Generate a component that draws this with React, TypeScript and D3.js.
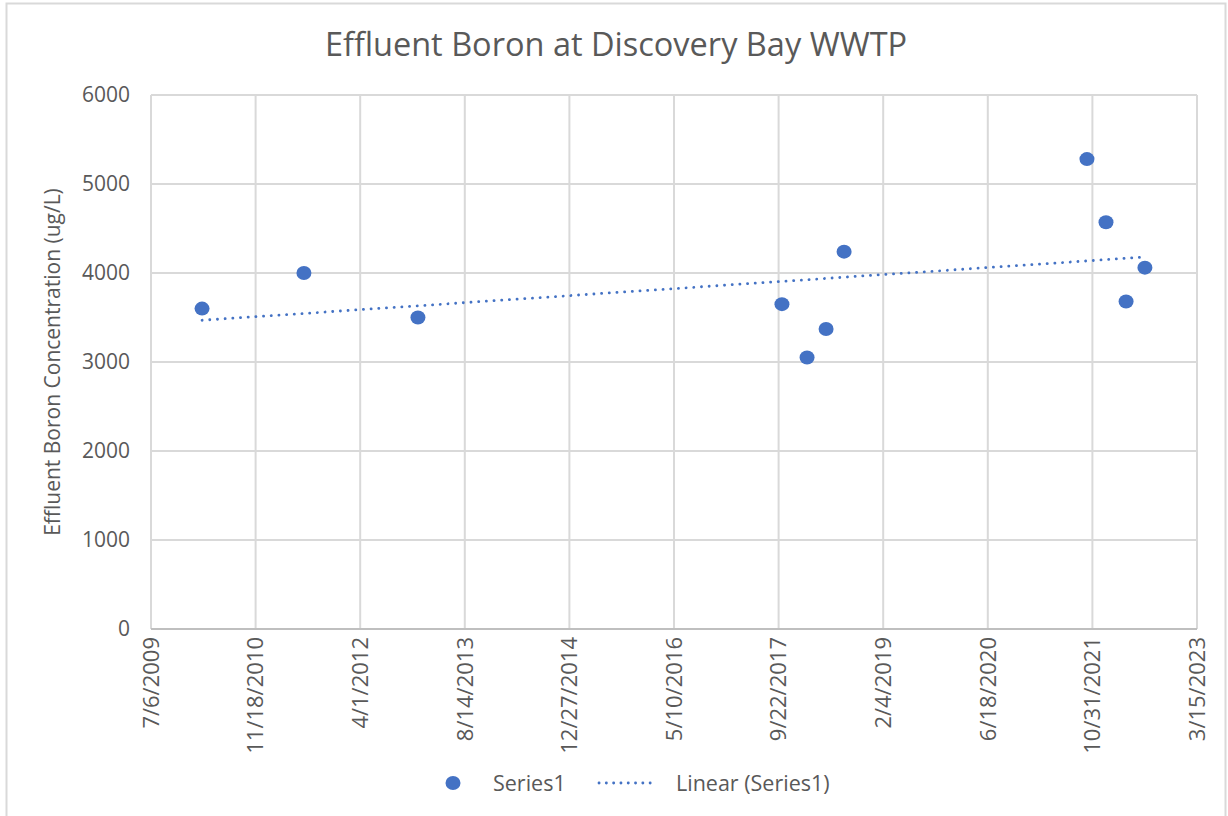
import React from "react";
import * as d3 from "d3";

// sample dates (m/d/yyyy) and boron concentration in ug/L
const sampleDates = [
  "3/7/2010",
  "7/7/2011",
  "1/2/2013",
  "10/8/2017",
  "2/5/2018",
  "5/7/2018",
  "8/1/2018",
  "10/5/2021",
  "1/4/2022",
  "4/10/2022",
  "7/9/2022",
];
const boronValues = [3600, 4000, 3500, 3650, 3050, 3370, 4240, 5280, 4570, 3680, 4060];

const xTickLabels = [
  "7/6/2009",
  "11/18/2010",
  "4/1/2012",
  "8/14/2013",
  "12/27/2014",
  "5/10/2016",
  "9/22/2017",
  "2/4/2019",
  "6/18/2020",
  "10/31/2021",
  "3/15/2023",
];
const yTicks = [0, 1000, 2000, 3000, 4000, 5000, 6000];

const W = 1228;
const H = 816;
const margin = { top: 95, right: 31, bottom: 187, left: 151 };
const FONT = "'Open Sans', sans-serif";
const TEXT = "#595959";
const GRID = "#d9d9d9";
const BLUE = "#4472C4";

export default function App() {
  const parse = d3.utcParse("%m/%d/%Y");
  const ticks = xTickLabels.map((t) => parse(t) as Date);
  const points = sampleDates.map((d, i) => ({ date: parse(d) as Date, value: boronValues[i] }));

  const x = d3
    .scaleUtc()
    .domain([ticks[0], ticks[ticks.length - 1]])
    .range([margin.left, W - margin.right]);
  const y = d3
    .scaleLinear()
    .domain([0, 6000])
    .range([H - margin.bottom, margin.top]);

  // least squares trend, like Excel's linear trendline
  const xs = points.map((p) => +p.date);
  const mx = d3.mean(xs) as number;
  const my = d3.mean(boronValues) as number;
  const sxy = d3.sum(points, (p) => (+p.date - mx) * (p.value - my));
  const sxx = d3.sum(xs, (v) => (v - mx) ** 2);
  const slope = sxy / sxx;
  const [x0, x1] = d3.extent(xs) as [number, number];
  const trend = [x0, x1].map((t) => [x(new Date(t)), y(my + slope * (t - mx))] as [number, number]);
  const trendPath = d3.line()(trend) as string;

  const plotBottom = H - margin.bottom;
  const plotRight = W - margin.right;

  return (
    <svg
      width={W}
      height={H}
      style={{ position: "absolute", left: 0, top: 0, background: "#fff" }}
      fontFamily={FONT}
    >
      <rect x={6.5} y={3.5} width={1219} height={H + 10} fill="#fff" stroke={GRID} strokeWidth={2} />

      <text x={616} y={56} textAnchor="middle" fontSize={32.5} fill={TEXT}>
        Effluent Boron at Discovery Bay WWTP
      </text>

      {/* horizontal grid */}
      {yTicks.map((t) => (
        <g key={"y" + t}>
          {t > 0 && (
            <line x1={margin.left} x2={plotRight} y1={y(t)} y2={y(t)} stroke={GRID} strokeWidth={2} />
          )}
          <text x={130} y={y(t)} dy="0.35em" textAnchor="end" fontSize={21} fill={TEXT}>
            {t}
          </text>
        </g>
      ))}

      {/* vertical grid + rotated date labels */}
      {ticks.map((t, i) => (
        <g key={"x" + i}>
          <line x1={x(t)} x2={x(t)} y1={margin.top} y2={plotBottom} stroke={GRID} strokeWidth={2} />
          <text
            transform={`translate(${x(t)},${plotBottom + 8}) rotate(-90)`}
            textAnchor="end"
            dy="0.35em"
            fontSize={22}
            fill={TEXT}
          >
            {xTickLabels[i]}
          </text>
        </g>
      ))}
      <line x1={margin.left} x2={plotRight} y1={plotBottom} y2={plotBottom} stroke="#bfbfbf" strokeWidth={2} />

      <text
        transform={`translate(60,${(margin.top + plotBottom) / 2}) rotate(-90)`}
        textAnchor="middle"
        fontSize={21}
        fill={TEXT}
      >
        Effluent Boron Concentration (ug/L)
      </text>

      {points.map((p, i) => (
        <ellipse key={i} cx={x(p.date)} cy={y(p.value)} rx={7.5} ry={7} fill={BLUE} />
      ))}

      <path
        d={trendPath}
        fill="none"
        stroke={BLUE}
        strokeWidth={2.8}
        strokeLinecap="round"
        strokeDasharray="0.1 7.6"
      />

      {/* legend */}
      <g transform="translate(0,783)">
        <ellipse cx={453} cy={0} rx={7.5} ry={7} fill={BLUE} />
        <text x={493} dy="0.35em" fontSize={21.5} fill={TEXT}>
          Series1
        </text>
        <line
          x1={599}
          x2={657}
          y1={0}
          y2={0}
          stroke={BLUE}
          strokeWidth={2.8}
          strokeLinecap="round"
          strokeDasharray="0.1 7.2"
        />
        <text x={676} dy="0.35em" fontSize={21.5} fill={TEXT}>
          Linear (Series1)
        </text>
      </g>
    </svg>
  );
}
